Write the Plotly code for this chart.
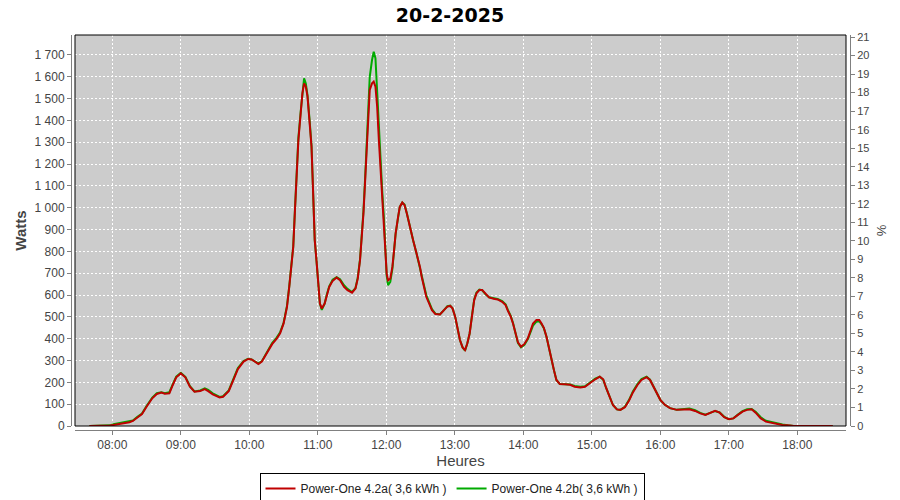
import plotly.graph_objects as go

day = "2025-02-20"
times = [
    "07:40", "07:50", "07:58",
    "08:01", "08:05", "08:11", "08:15", "08:18", "08:22", "08:26", "08:30", "08:35", "08:39", "08:43", "08:46", "08:50", "08:53", "08:56",
    "09:00", "09:04", "09:08", "09:12", "09:17", "09:21", "09:24", "09:28", "09:34", "09:37", "09:42", "09:46", "09:50", "09:55", "09:59",
    "10:02", "10:05", "10:08", "10:11", "10:15", "10:20", "10:24", "10:27", "10:30", "10:33", "10:35", "10:37", "10:38:30", "10:40", "10:41:30",
    "10:43", "10:45", "10:46:30", "10:48", "10:49:30", "10:51", "10:53", "10:54:30", "10:55:20", "10:56:10", "10:57:20", "10:58:50",
    "11:00:20", "11:01:50", "11:03:30", "11:06", "11:08", "11:10", "11:13", "11:16:30", "11:19:30", "11:23", "11:26", "11:30", "11:33", "11:35", "11:37",
    "11:38:30", "11:40", "11:41:30", "11:43", "11:44:30", "11:45:30", "11:47:30", "11:49", "11:50:30", "11:52", "11:53:30", "11:55", "11:56:30", "11:58", "11:59",
    "12:00:20", "12:01:30", "12:03:30", "12:05:20", "12:06:50", "12:08:10", "12:10:20", "12:11:50", "12:14", "12:16", "12:18", "12:20:30", "12:23:30", "12:26:30", "12:29:30",
    "12:31", "12:33", "12:35", "12:37:30", "12:40", "12:43", "12:47", "12:50:30", "12:53:30", "12:56", "12:58",
    "13:00:20", "13:02:30", "13:04:30", "13:06:50", "13:09", "13:11", "13:13", "13:15", "13:17", "13:19", "13:21:30", "13:24", "13:27", "13:30", "13:34",
    "13:37:30", "13:41:30", "13:44:30", "13:46:30", "13:49", "13:51", "13:53", "13:55:20", "13:58",
    "14:01", "14:04", "14:06:30", "14:08:30", "14:11:30", "14:14", "14:16", "14:18", "14:20:20", "14:22:40", "14:24:40", "14:26:50", "14:29", "14:32", "14:36:30",
    "14:41", "14:45", "14:50", "14:54", "14:58:30",
    "15:03", "15:07", "15:10", "15:12:40", "15:15:40", "15:18:30", "15:22", "15:25", "15:29", "15:32:40", "15:36", "15:40", "15:43:30", "15:48", "15:51", "15:54", "15:57",
    "16:00", "16:04", "16:08:30", "16:14:30", "16:20", "16:25:30", "16:30:30", "16:35", "16:39:30", "16:44", "16:48", "16:52", "16:56",
    "17:00", "17:04", "17:08", "17:12", "17:16", "17:20", "17:23:30", "17:28", "17:32:30", "17:37", "17:41", "17:47", "17:51:30", "17:57", "18:31",
]
power_a = [
    0, 0, 2,
    5, 8, 12, 17, 23, 40, 55, 88, 127, 147, 153, 148, 150, 188, 223,
    241, 223, 180, 157, 160, 169, 160, 145, 131, 134, 160, 211, 261, 295, 307,
    305, 295, 284, 295, 330, 375, 400, 425, 469, 545, 637, 729, 821, 989, 1172,
    1310, 1432, 1524, 1570, 1555, 1509, 1387, 1280, 1157, 1004, 851, 760,
    653, 561, 538, 561, 599, 637, 665, 680, 668, 637, 622, 611, 630, 675, 760,
    851, 974, 1127, 1310, 1417, 1540, 1570, 1578, 1555, 1463, 1310, 1188, 1065, 943, 821,
    698, 668, 675, 729, 806, 882, 958, 1004, 1024, 1012, 974, 913, 851, 790, 729,
    684, 638, 592, 562, 531, 513, 511, 531, 547, 550, 539,
    501, 440, 394, 360, 348, 379, 424, 501, 577, 608, 623, 623, 605, 589, 583,
    580, 569, 554, 528, 501, 470, 424, 383, 363,
    376, 402, 440, 470, 486, 486, 470, 450, 409, 348, 302, 256, 211, 192, 191,
    189, 180, 176, 180, 198,
    214, 226, 214, 173, 134, 96, 76, 74, 86, 117, 154, 188, 211, 224, 211, 181, 151,
    120, 97, 82, 74, 74, 77, 69, 58, 51, 61, 69, 61, 40,
    31, 35, 51, 66, 74, 77, 61, 35, 20, 15, 9, 5, 3, 0, 0,
]
power_b = [
    0, 0, 3,
    8, 12, 15, 20, 25, 42, 57, 92, 130, 150, 155, 150, 155, 192, 226,
    244, 225, 182, 158, 163, 172, 165, 150, 133, 136, 163, 215, 266, 298, 308,
    305, 296, 286, 297, 334, 380, 405, 430, 472, 550, 640, 732, 824, 992, 1175,
    1320, 1440, 1535, 1593, 1570, 1515, 1390, 1285, 1160, 1004, 851, 760,
    653, 561, 532, 561, 605, 640, 670, 682, 672, 645, 628, 614, 632, 680, 765,
    860, 985, 1140, 1330, 1460, 1600, 1677, 1715, 1685, 1530, 1340, 1200, 1070, 945, 820,
    690, 645, 660, 720, 800, 880, 955, 1004, 1024, 1015, 975, 915, 851, 790, 729,
    690, 645, 600, 568, 535, 515, 511, 531, 549, 552, 540,
    501, 440, 394, 360, 345, 379, 424, 505, 580, 612, 625, 622, 603, 590, 585,
    582, 572, 557, 532, 505, 472, 424, 380, 360,
    372, 398, 430, 460, 478, 480, 466, 448, 409, 348, 302, 256, 211, 192, 191,
    190, 183, 180, 182, 200,
    217, 226, 212, 173, 134, 96, 76, 74, 88, 120, 158, 192, 215, 226, 212, 183, 152,
    120, 97, 82, 74, 76, 80, 72, 60, 52, 61, 69, 62, 42,
    31, 35, 52, 68, 77, 78, 65, 40, 24, 18, 12, 7, 3, 0, 0,
]
series_names = ["Power-One 4.2a( 3,6 kWh )", "Power-One 4.2b( 3,6 kWh )"]
title_text = "20-2-2025"

assert len(times) == len(power_a) == len(power_b)
x = [f"{day} {t}" if len(t) > 5 else f"{day} {t}:00" for t in times]

RED = "#C00000"
GREEN = "#00AA00"
AXC = "#808080"
TXT = "#444444"
FONT = "Liberation Sans, Arial, sans-serif"

fig = go.Figure()
fig.add_trace(go.Scatter(x=x, y=power_b, mode="lines", name=series_names[1],
                         line=dict(color=GREEN, width=2), legendrank=2))
fig.add_trace(go.Scatter(x=x, y=power_a, mode="lines", name=series_names[0],
                         line=dict(color=RED, width=2), legendrank=1))
fig.add_trace(go.Scatter(x=[None], y=[None], yaxis="y2", showlegend=False, hoverinfo="skip"))

L, R, T, B = 71, 50, 35, 70
pw = 900 - L - R
ph = 500 - T - B

fig.update_layout(
    width=900, height=500,
    margin=dict(l=L, r=R, t=T, b=B, autoexpand=False),
    paper_bgcolor="white", plot_bgcolor="#CCCCCC",
    separators=", ",
    font=dict(family=FONT, size=12, color=TXT),
    title=dict(text=title_text, x=0.5, xref="container", y=1 - 15 / 500, yanchor="middle",
               font=dict(family="DejaVu Sans, sans-serif", size=19, color="black", weight="bold")),
    xaxis=dict(
        type="date", domain=[4 / pw, (pw - 4) / pw], automargin=False,
        range=[f"{day} 07:27:20", f"{day} 18:42:40"],
        tick0=f"{day} 08:00", dtick=3600000, tickformat="%H:%M",
        showgrid=True, gridcolor="white", gridwidth=1, griddash="2px,2px",
        showline=True, linecolor=AXC, linewidth=1, ticks="outside", ticklen=4, tickcolor=AXC,
        anchor="free", position=0, zeroline=False,
        tickfont=dict(size=12, color=TXT),
        title=dict(text="Heures", font=dict(size=15, color=TXT), standoff=3),
    ),
    yaxis=dict(
        domain=[4 / ph, 1], range=[0, 1791.6], dtick=100, tick0=0, tickformat=",d", automargin=False,
        showgrid=True, gridcolor="white", gridwidth=1, griddash="2px,2px",
        showline=True, linecolor=AXC, linewidth=1, ticks="outside", ticklen=4, tickcolor=AXC,
        anchor="free", position=0, zeroline=False,
        tickfont=dict(size=12, color=TXT),
        title=dict(text="Watts", font=dict(size=15, color=TXT, weight="bold"), standoff=3),
    ),
    yaxis2=dict(
        domain=[4 / ph, 1], range=[0, 21.11], dtick=1, tick0=0, overlaying="y", side="right",
        anchor="free", position=1, showgrid=False, zeroline=False, automargin=False,
        showline=True, linecolor=AXC, linewidth=1, ticks="outside", ticklen=4, tickcolor=AXC,
        tickfont=dict(size=11, color=TXT),
        title=dict(text="%", font=dict(size=13, color=TXT), standoff=8),
    ),
    legend=dict(orientation="h", x=(452 - L) / pw, xanchor="center", y=-(473 - (T + ph)) / ph,
                yanchor="top", bordercolor="black", borderwidth=1, bgcolor="white",
                font=dict(size=12, color="#222222"), itemwidth=30, tracegroupgap=0),
    showlegend=True,
)

fig.add_shape(type="rect", xref="x domain", yref="y domain", x0=0, x1=1, y0=0, y1=1,
              line=dict(color="black", width=1), fillcolor="rgba(0,0,0,0)", layer="above")

fig.write_html("out.html", config={"displayModeBar": False},
               post_script="document.body.style.margin='0';document.body.style.overflow='hidden';")
